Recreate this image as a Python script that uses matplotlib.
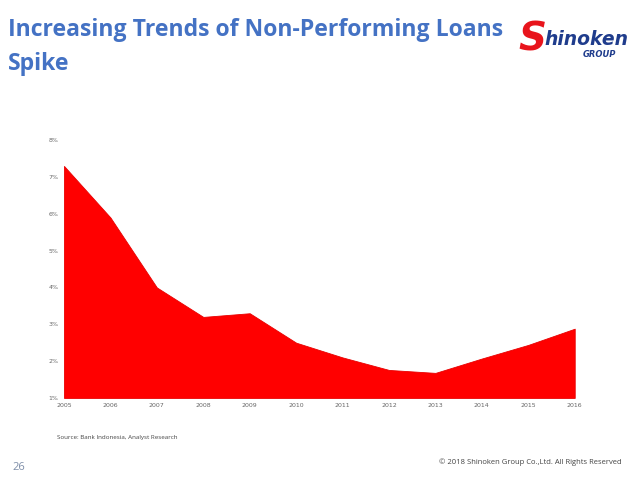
import matplotlib.pyplot as plt
from matplotlib.ticker import FuncFormatter

years = [2005, 2006, 2007, 2008, 2009, 2010, 2011, 2012, 2013, 2014, 2015, 2016]
npl = [7.3, 5.9, 4.0, 3.2, 3.3, 2.5, 2.1, 1.76, 1.68, 2.07, 2.44, 2.88]
yticks = [1, 2, 3, 4, 5, 6, 7, 8]

title_blue = '#4472C4'

fig = plt.figure(figsize=(6.4, 4.8), dpi=100)
ax = fig.add_axes([0.1, 0.171, 0.798, 0.537])

ax.fill_between(years, 1, npl, color='#FF0000', linewidth=0.6, edgecolor='#E80000')
ax.set_xlim(years[0], years[-1])
ax.set_ylim(1, 8)
ax.set_xticks(years)
ax.set_yticks(yticks)
ax.yaxis.set_major_formatter(FuncFormatter(lambda v, p: f'{v:.0f}%'))
ax.tick_params(length=0, labelsize=4.5, labelcolor='#666666', pad=4)
for s in ax.spines.values():
    s.set_visible(False)

fig.text(0.013, 0.925, 'Increasing Trends of Non-Performing Loans', fontsize=16.6,
         fontweight='bold', color=title_blue, family='Open Sans', va='baseline')
fig.text(0.013, 0.854, 'Spike', fontsize=16.6,
         fontweight='bold', color=title_blue, family='Open Sans', va='baseline')

# logo
fig.text(0.81, 0.918, 'S', fontsize=28, fontweight='bold', style='italic',
         color='#E8141C', va='center', family='DejaVu Sans')
fig.text(0.85, 0.918, 'hinoken', fontsize=13.5, fontweight='bold', style='italic',
         color='#1F3C8C', va='center', family='DejaVu Sans')
fig.text(0.91, 0.887, 'GROUP', fontsize=6, fontweight='bold', style='italic',
         color='#1F3C8C', va='center', family='DejaVu Sans')

fig.text(0.089, 0.088, 'Source: Bank Indonesia, Analyst Research', fontsize=4.5,
         color='#444444', va='center', family='Open Sans')
fig.text(0.972, 0.037, '\u00a9 2018 Shinoken Group Co.,Ltd. All Rights Reserved', fontsize=5.5,
         color='#444444', va='center', ha='right', family='Open Sans')
fig.text(0.02, 0.027, '26', fontsize=8, color='#7F8FA9', va='center', family='Open Sans')

fig.savefig('out.png', dpi=100)
